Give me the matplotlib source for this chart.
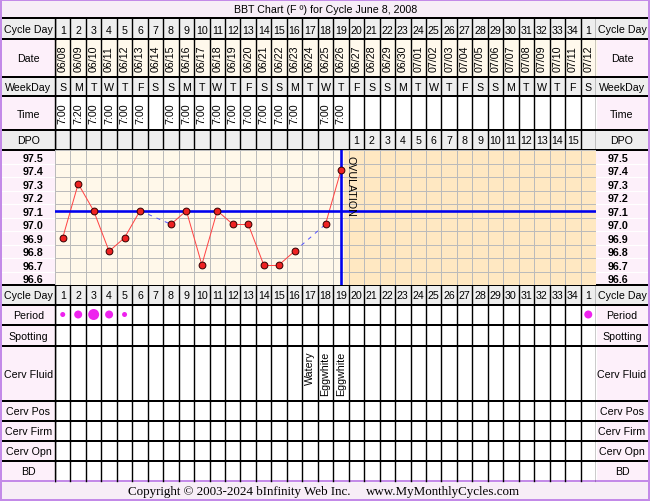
import matplotlib
matplotlib.use('Agg')
import matplotlib.pyplot as plt
import matplotlib.transforms as mtransforms
from matplotlib.patches import Rectangle
import numpy as np

plt.rcParams['font.family'] = ['Liberation Sans', 'DejaVu Sans']

# ---------------- data ----------------
title = 'BBT Chart (F º) for Cycle June 8, 2008'
cycle_days = ['1', '2', '3', '4', '5', '6', '7', '8', '9', '10', '11', '12', '13', '14', '15',
              '16', '17', '18', '19', '20', '21', '22', '23', '24', '25', '26', '27', '28', '29',
              '30', '31', '32', '33', '34', '1']
dates = ['06/08', '06/09', '06/10', '06/11', '06/12', '06/13', '06/14', '06/15', '06/16', '06/17',
         '06/18', '06/19', '06/20', '06/21', '06/22', '06/23', '06/24', '06/25', '06/26', '06/27',
         '06/28', '06/29', '06/30', '07/01', '07/02', '07/03', '07/04', '07/05', '07/06', '07/07',
         '07/08', '07/09', '07/10', '07/11', '07/12']
weekdays = ['S', 'M', 'T', 'W', 'T', 'F', 'S', 'S', 'M', 'T', 'W', 'T', 'F', 'S', 'S', 'M', 'T',
            'W', 'T', 'F', 'S', 'S', 'M', 'T', 'W', 'T', 'F', 'S', 'S', 'M', 'T', 'W', 'T', 'F', 'S']
times = ['7:00', '7:20', '7:00', '7:00', '7:00', '7:00', '', '7:00', '7:00', '7:00', '7:00',
         '7:00', '7:00', '7:00', '7:00', '7:00', '', '7:00', '7:00', '', '', '', '', '', '', '',
         '', '', '', '', '', '', '', '', '']
dpo = ['', '', '', '', '', '', '', '', '', '', '', '', '', '', '', '', '', '', '',
       '1', '2', '3', '4', '5', '6', '7', '8', '9', '10', '11', '12', '13', '14', '15', '']

temp_days = [1, 2, 3, 4, 5, 6, 7, 8, 9, 10, 11, 12, 13, 14, 15, 16, 17, 18, 19]
temps = [96.9, 97.3, 97.1, 96.8, 96.9, 97.1, None, 97.0, 97.1, 96.7, 97.1, 97.0, 97.0,
         96.7, 96.7, 96.8, None, 97.0, 97.4]
temp_ticks = [97.5, 97.4, 97.3, 97.2, 97.1, 97.0, 96.9, 96.8, 96.7, 96.6]
temp_tick_labels = ['97.5', '97.4', '97.3', '97.2', '97.1', '97.0', '96.9', '96.8', '96.7', '96.6']
coverline = 97.1
ovulation_day = 19

period_days = [1, 2, 3, 4, 5, 35]
period_level = [1, 2, 3, 2, 1, 2]
fluid_days = [17, 18, 19]
fluid_text = ['Watery', 'Eggwhite', 'Eggwhite']

upper_rows = ['Cycle Day', 'Date', 'WeekDay', 'Time', 'DPO']
lower_rows = ['Cycle Day', 'Period', 'Spotting', 'Cerv Fluid', 'Cerv Pos', 'Cerv Firm',
              'Cerv Opn', 'BD']

# ---------------- layout / style ----------------
W, H = 650, 502
X0, X1 = 55, 596          # day-column area in px
LX0, RX1 = 2, 648
NC = len(cycle_days)
CH_TOP, CH_BOT = 151, 286  # chart area in px
FS = 7.7
PX = 0.72  # points per pixel

GRAY = '#EEEEEE'
PINK = '#FDF0FA'
TITLEBG = '#F7EDF7'
CREAM = '#FFF9EC'
PRE = '#FFF8EA'
POST = '#FFE8C2'
PURPLE = '#C38AE8'

upper_bounds = [(19, 40), (40, 78), (78, 97), (97, 131), (131, 151)]
upper_bg = [(GRAY, GRAY), (PINK, CREAM), (GRAY, GRAY), (PINK, 'white'), (GRAY, GRAY)]
lower_bounds = [(286, 306), (306, 326), (326, 347), (347, 402), (402, 422), (422, 442),
                (442, 462), (462, 482)]
lower_bg = [(GRAY, GRAY)] + [(PINK, 'white')] * 7

fig = plt.figure(figsize=(W / 100, H / 100), dpi=100)
bg = fig.add_axes([0, 0, 1, 1])
bg.set_xlim(0, W)
bg.set_ylim(H, 0)
bg.axis('off')

dax = fig.add_axes([X0 / W, 0, (X1 - X0) / W, 1], zorder=2)
dax.set_xlim(0.5, NC + 0.5)
dax.set_ylim(H, 0)
dax.axis('off')
dax.patch.set_alpha(0)

# title & copyright bands
bg.add_patch(Rectangle((0, 0), W, 19, color=TITLEBG, zorder=0))
bg.add_patch(Rectangle((0, 482), W, H - 482, color=TITLEBG, zorder=0))
bg.text(W / 2 + 1, 10, title, ha='center', va='center', fontsize=FS)
bg.text(350, 492.5, 'Copyright © 2003-2024 bInfinity Web Inc.', ha='right', va='center',
        fontsize=9.4, family='Liberation Serif')
bg.text(366, 492.5, 'www.MyMonthlyCycles.com', ha='left', va='center',
        fontsize=9.4, family='Liberation Serif')

cols = np.arange(1, NC + 1)


def draw_rows(labels, bounds, bgs):
    for lab, (y0, y1), (lbg, cbg) in zip(labels, bounds, bgs):
        bg.add_patch(Rectangle((LX0, y0), X0 - LX0, y1 - y0, color=lbg, zorder=0))
        bg.add_patch(Rectangle((X1, y0), RX1 - X1, y1 - y0, color=lbg, zorder=0))
        bg.add_patch(Rectangle((X0, y0), X1 - X0, y1 - y0, color=cbg, zorder=0))
        bg.text((LX0 + X0) / 2, (y0 + y1) / 2 + 0.5, lab, ha='center', va='center', fontsize=FS)
        bg.text((X1 + RX1) / 2, (y0 + y1) / 2 + 0.5, lab, ha='center', va='center', fontsize=FS)
        bg.plot([0, W], [y0, y0], color='black', lw=2 * PX, zorder=3)
        bg.plot([0, W], [y1, y1], color='black', lw=2 * PX, zorder=3)
        for k in range(NC + 1):
            x = k + 0.5
            dax.plot([x, x], [y0, y1], color='black', lw=1.4 * PX, zorder=3)
        bg.plot([X0, X0], [y0, y1], color='black', lw=1.4 * PX, zorder=3)


draw_rows(upper_rows, upper_bounds, upper_bg)
draw_rows(lower_rows, lower_bounds, lower_bg)
# bottom line of BD row in purple
bg.plot([0, W], [482, 482], color=PURPLE, lw=2 * PX, zorder=4)

# header contents
for i, c in enumerate(cols):
    dax.text(c, 30.5, cycle_days[i], ha='center', va='center', fontsize=FS)
    dax.text(c, 59, dates[i], ha='center', va='center', rotation=90, fontsize=FS)
    dax.text(c, 88, weekdays[i], ha='center', va='center', fontsize=FS)
    if times[i]:
        dax.text(c, 113.5, times[i], ha='center', va='center', rotation=90, fontsize=FS)
    if dpo[i]:
        dax.text(c, 141.5, dpo[i], ha='center', va='center', fontsize=FS)
    dax.text(c, 296.5, cycle_days[i], ha='center', va='center', fontsize=FS)

# period dots
sizes = {1: 5, 2: 8, 3: 11}
dax.scatter(period_days, [315.5] * len(period_days),
            s=[(sizes[l] * PX) ** 2 for l in period_level], color='#EE22EE',
            edgecolors='none', zorder=5)

# cervical fluid
for d, t in zip(fluid_days, fluid_text):
    dax.text(d, 351.5, t, ha='center', va='top', rotation=90, fontsize=FS)

# chart side label columns
bg.add_patch(Rectangle((LX0, CH_TOP), X0 - LX0, CH_BOT - CH_TOP, color=PINK, zorder=0))
bg.add_patch(Rectangle((X1, CH_TOP), RX1 - X1, CH_BOT - CH_TOP, color=PINK, zorder=0))
for k in range(1, 10):
    y = CH_TOP + k * (CH_BOT - CH_TOP) / 10
    bg.plot([LX0, X0], [y, y], color='white', lw=1.2 * PX, zorder=1)
    bg.plot([X1, RX1], [y, y], color='white', lw=1.2 * PX, zorder=1)

# ---------------- temperature chart ----------------
cax = fig.add_axes([X0 / W, (H - CH_BOT) / H, (X1 - X0) / W, (CH_BOT - CH_TOP) / H], zorder=3)
cax.set_xlim(0.5, NC + 0.5)
cax.set_ylim(96.55, 97.55)
for s in cax.spines.values():
    s.set_visible(False)
cax.axvspan(0.5, ovulation_day + 0.2, color=PRE, zorder=0, lw=0)
cax.axvspan(ovulation_day + 0.2, NC + 0.5, color=POST, zorder=0, lw=0)
cax.set_xticks(np.arange(0.5, NC + 1, 1))
cax.set_yticks(np.arange(96.55, 97.56, 0.1), minor=True)
cax.set_yticks(temp_ticks)
cax.set_yticklabels(temp_tick_labels, fontweight='bold', fontsize=FS)
cax.tick_params(axis='x', length=0, labelbottom=False)
cax.tick_params(axis='y', which='both', length=0, labelleft=True, labelright=True)
cax.tick_params(axis='y', which='major', pad=8.3)
cax.grid(axis='x', which='major', color='#BBBBBB', lw=1.0 * PX, zorder=1)
cax.grid(axis='y', which='minor', color='#BBBBBB', lw=1.0 * PX, zorder=1)
cax.set_axisbelow(True)

# split into solid (consecutive) and dashed (gap) segments
rec = [(d, t) for d, t in zip(temp_days, temps) if t is not None]
for (d0, t0), (d1, t1) in zip(rec[:-1], rec[1:]):
    if d1 - d0 == 1:
        cax.plot([d0, d1], [t0, t1], color='#FF4444', lw=1.0 * PX, zorder=4)
    else:
        cax.plot([d0, d1], [t0, t1], color='#5555FF', lw=1.0 * PX, ls=(0, (4, 5)), zorder=4)

cax.axhline(coverline, color='#0000EE', lw=2.6 * PX, zorder=5)
cax.axvline(ovulation_day, color='#0000EE', lw=2.6 * PX, zorder=5)
cax.plot([d for d, _ in rec], [t for _, t in rec], ls='none', marker='o', ms=6.8 * PX,
         mfc='#EE2222', mec='#330000', mew=0.7, zorder=6)

off = mtransforms.offset_copy(cax.transData, fig=fig, x=4.5 * PX, y=-5 * PX, units='points')
cax.text(ovulation_day, 97.55, 'OVULATION', rotation=270, ha='left', va='top',
         fontsize=FS, transform=off, zorder=7)

# outer purple border
bg.add_patch(Rectangle((1, 1), W - 2, H - 2, fill=False, ec=PURPLE, lw=2 * PX, zorder=10))

fig.savefig('out.png', dpi=100)
